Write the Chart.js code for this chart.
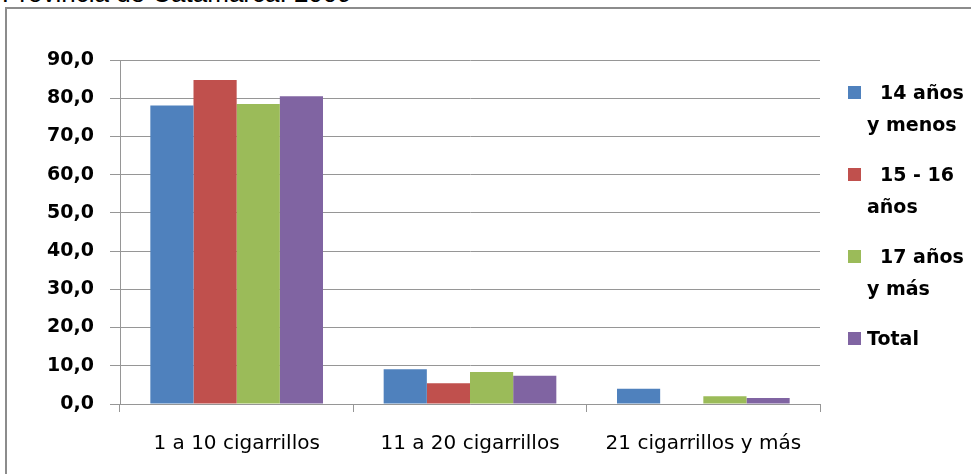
<!DOCTYPE html>
<html>
<head>
<meta charset="utf-8">
<script src="https://cdn.jsdelivr.net/npm/chart.js@4.4.0/dist/chart.umd.min.js"></script>
<style>
    body { margin: 0; background: #fff; }
    #wrap { position: relative; width: 971px; height: 474px; overflow: hidden; }
    #title { position: absolute; left: 2px; top: -18px; font: 26px/22px "Liberation Sans", Arial, sans-serif; color: #000; white-space: nowrap; }
    #frame { position: absolute; left: 5px; top: 7px; width: 1000px; height: 500px; border: 2px solid #8c8c8c; }
    #myChart { position: absolute; left: 0; top: 0; }
    #legend { position: absolute; left: 848px; top: 76px; }
    .item { position: relative; margin-bottom: 18px; }
    .box { position: absolute; left: 0; top: 10px; width: 13px; height: 13px; }
    .txt { margin-left: 19px; width: 104px; font: bold 19px/32px "DejaVu Sans", sans-serif; color: #000; text-indent: 13px; }
    .txt.noindent { text-indent: 0; }
</style>
</head>
<body>
<div id="wrap">
    <div id="title">Provincia de Catamarca. 2009</div>
    <div id="frame"></div>
    <canvas id="myChart" width="971" height="474"></canvas>
    <div id="legend"></div>
</div>
<script>
const categories = ['1 a 10 cigarrillos', '11 a 20 cigarrillos', '21 cigarrillos y más'];
const seriesNames = ['14 años y menos', '15 - 16 años', '17 años y más', 'Total'];
const age14 = [78.1, 9.1, 4.0];
const age15 = [84.8, 5.4, 0.0];
const age17 = [78.5, 8.4, 2.0];
const total = [80.5, 7.4, 1.6];
const yTicks = ['0,0', '10,0', '20,0', '30,0', '40,0', '50,0', '60,0', '70,0', '80,0', '90,0'];
const colors = ['#4F81BD', '#C0504D', '#9BBB59', '#8064A2'];

const values = [age14, age15, age17, total];
const datasets = values.map((el, i) => {
    return {
        label: seriesNames[i],
        data: el,
        backgroundColor: colors[i],
        borderWidth: 0,
        barPercentage: 1.0,
        categoryPercentage: 0.74,
    };
});

const config = {
    type: 'bar',
    data: { labels: categories, datasets: datasets },
    options: {
        responsive: false,
        animation: false,
        layout: { padding: { left: 0, right: 151, top: 60, bottom: 0 } },
        plugins: {
            legend: { display: false },
            title: { display: false },
            tooltip: { enabled: false },
        },
        scales: {
            x: {
                grid: { offset: true, drawOnChartArea: false, tickLength: 8, color: '#969696' },
                border: { color: '#969696' },
                ticks: {
                    color: '#000',
                    padding: 20,
                    font: { family: 'DejaVu Sans', size: 20 },
                },
                afterFit: (scale) => { scale.height = 70; },
            },
            y: {
                min: 0,
                max: 90,
                ticks: {
                    stepSize: 10,
                    color: '#000',
                    padding: 16,
                    font: { family: 'DejaVu Sans', size: 19, weight: 'bold' },
                    callback: (v, i) => yTicks[i],
                },
                grid: { color: '#969696', tickLength: 10 },
                border: { color: '#969696' },
                afterFit: (scale) => { scale.width = 120; },
            },
        },
    },
};

const myChart = new Chart(document.getElementById('myChart'), config);

// legend with wrapped labels, like the original
const legend = document.getElementById('legend');
seriesNames.forEach((name, i) => {
    const item = document.createElement('div');
    item.className = 'item';
    const box = document.createElement('div');
    box.className = 'box';
    box.style.background = colors[i];
    const txt = document.createElement('div');
    txt.className = name === 'Total' ? 'txt noindent' : 'txt';
    txt.textContent = name;
    item.appendChild(box);
    item.appendChild(txt);
    legend.appendChild(item);
});
</script>
</body>
</html>
